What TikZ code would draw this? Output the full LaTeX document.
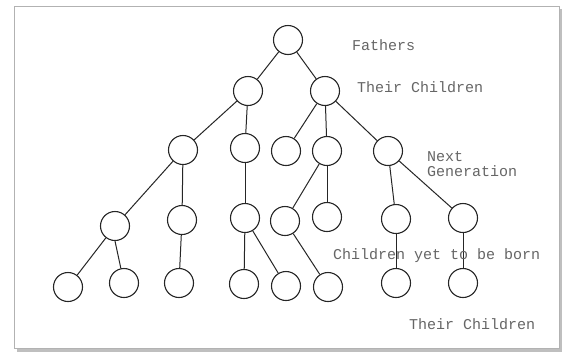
\documentclass[tikz,border=0pt]{standalone}
\usepackage{fontspec}
\setmonofont{Liberation Mono}
\usetikzlibrary{shapes}
\tikzset{
	gen_node/.style = {
		circle,
		draw=black!85,
		line width=1.1pt,
		fill=white,
		inner sep=0pt,
		minimum size=29pt
	},
	gen_label/.style = {
		align=left,
		inner sep=0pt,
		anchor=west,
		text=black!60,
		font=\ttfamily\fontsize{15}{17}\selectfont
	},
	gen_edge/.style = {
		draw=black!85,
		line width=1pt
	},
}
\begin{document}
\begin{tikzpicture}[x=1pt,y=-1pt]
\useasboundingbox (0,0) rectangle (567,354);
% frame with a soft shadow
\fill [black!25] (17,9) rectangle (562,352);
\filldraw [fill=white, draw=black!30, line width=0.8pt] (14,6) rectangle (559,348);

% fathers and their children
\node [gen_node] (f) at (288,40) {};
\node [gen_node] (c1) at (248,91) {};
\node [gen_node] (c2) at (325,91) {};

% next generation
\node [gen_node] (n1) at (183,150) {};
\node [gen_node] (n2) at (245,148) {};
\node [gen_node] (n3) at (286,151) {};
\node [gen_node] (n4) at (327,151) {};
\node [gen_node] (n5) at (388,151) {};

% children yet to be born
\node [gen_node] (b1) at (115,226) {};
\node [gen_node] (b2) at (182,220) {};
\node [gen_node] (b3) at (245,218) {};
\node [gen_node] (b4) at (285,221) {};
\node [gen_node] (b5) at (327,217) {};
\node [gen_node] (b6) at (396,219) {};
\node [gen_node] (b7) at (463,218) {};

% their children
\node [gen_node] (g1) at (68,287) {};
\node [gen_node] (g2) at (124,283) {};
\node [gen_node] (g3) at (179,283) {};
\node [gen_node] (g4) at (244,284) {};
\node [gen_node] (g5) at (286,286) {};
\node [gen_node] (g6) at (328,287) {};
\node [gen_node] (g7) at (396,283) {};
\node [gen_node] (g8) at (463,283) {};

\begin{scope}[gen_edge]
\draw (f) -- (c1);
\draw (f) -- (c2);
\draw (c1) -- (n1);
\draw (c1) -- (n2);
\draw (c2) -- (n3);
\draw (c2) -- (n4);
\draw (c2) -- (n5);
\draw (n1) -- (b1);
\draw (n1) -- (b2);
\draw (n2) -- (b3);
\draw (n4) -- (b4);
\draw (n4) -- (b5);
\draw (n5) -- (b6);
\draw (n5) -- (b7);
\draw (b1) -- (g1);
\draw (b1.south) -- (g2);
\draw (b2) -- (g3);
\draw (b3) -- (g4);
\draw (b3) -- (g5);
\draw (b4) -- (g6);
\draw (b6) -- (g7);
\draw (b7) -- (g8);
\end{scope}

% labels
\node [gen_label] (lf) at (352,45) {Fathers};
\node [gen_label] (lc) at (357,87) {Their Children};
\node [gen_label] (ln) at (427,164) {Next\\[-2pt]Generation};
\node [gen_label] (lb) at (333,256) {Children yet to be born};
\node [gen_label] (lg) at (409,324) {Their Children};
\end{tikzpicture}
\end{document}
